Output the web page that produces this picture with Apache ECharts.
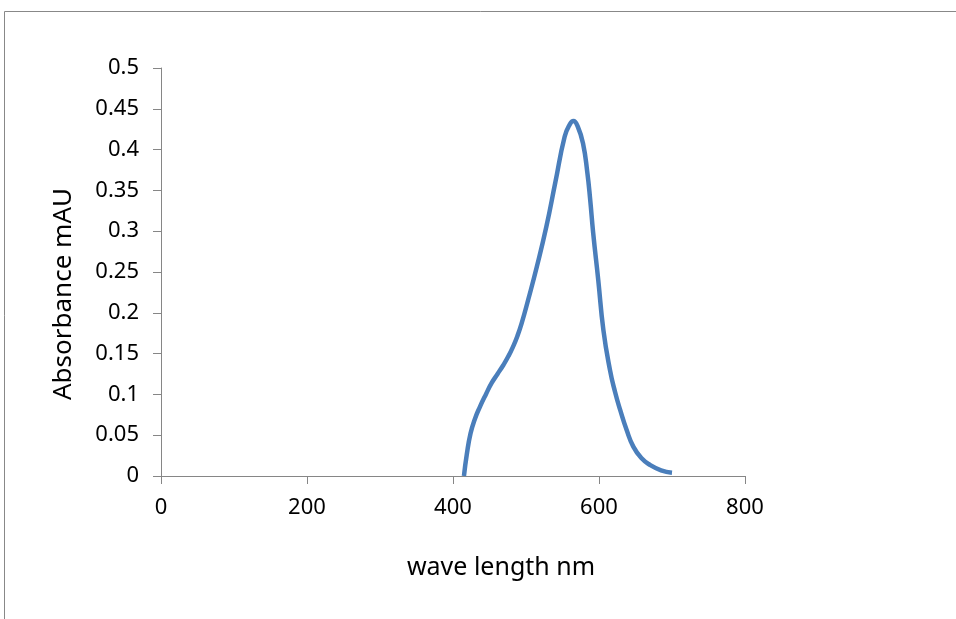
<!DOCTYPE html>
<html>
<head>
<meta charset="utf-8">
<script src="https://cdn.jsdelivr.net/npm/echarts@6/dist/echarts.min.js"></script>
<style>
html,body{margin:0;padding:0;background:#fff;}
#chart{width:956px;height:619px;}
</style>
</head>
<body>
<div id="chart"></div>
<script>
const wavelength = [415, 419, 424, 430, 437, 445, 453, 461, 469, 476, 482, 488, 494, 503, 515, 528, 540, 553, 560, 565, 571, 578, 584, 588, 592, 599, 606, 615, 622, 629, 638, 647, 658, 670, 685, 700];
const absorbance = [0, 0.027, 0.052, 0.070, 0.085, 0.100, 0.114, 0.125, 0.136, 0.147, 0.158, 0.171, 0.187, 0.216, 0.257, 0.306, 0.359, 0.416, 0.431, 0.435, 0.428, 0.408, 0.372, 0.338, 0.298, 0.240, 0.179, 0.130, 0.103, 0.081, 0.056, 0.036, 0.022, 0.0135, 0.007, 0.004];
const xTitle = 'wave length nm';
const yTitle = 'Absorbance mAU';

const chart = echarts.init(document.getElementById('chart'));
const font = '"Noto Sans", "Open Sans", sans-serif';
const axisColor = '#868686';
chart.setOption({
  animation: false,
  grid: {left: 161, right: 211, top: 68, bottom: 143},
  xAxis: {
    type: 'value', min: 0, max: 800, interval: 200,
    axisLine: {show: true, lineStyle: {color: axisColor, width: 1}},
    axisTick: {show: true, length: 8, lineStyle: {color: axisColor}},
    splitLine: {show: false},
    axisLabel: {color: '#000', fontSize: 22, fontFamily: font, margin: 21}
  },
  yAxis: {
    type: 'value', min: 0, max: 0.5, interval: 0.05,
    axisLine: {show: true, lineStyle: {color: axisColor, width: 1}},
    axisTick: {show: true, length: 8, lineStyle: {color: axisColor}},
    splitLine: {show: false},
    axisLabel: {color: '#000', fontSize: 22, fontFamily: font, margin: 22,
      formatter: v => String(parseFloat(v.toFixed(2)))}
  },
  series: [{
    type: 'line',
    data: wavelength.map((w, i) => [w, absorbance[i]]),
    smooth: 0.5,
    showSymbol: false,
    lineStyle: {color: '#4a7ebb', width: 4.5}
  }],
  graphic: [
    {type: 'rect', shape: {x: 4.5, y: 11.5, width: 1000, height: 700}, style: {fill: 'none', stroke: '#888', lineWidth: 1}, silent: true},
    {type: 'text', x: 501, y: 568, style: {text: xTitle, font: '25px ' + font, fill: '#000', textAlign: 'center', textVerticalAlign: 'middle'}},
    {type: 'text', x: 64, y: 294, rotation: Math.PI / 2, style: {text: yTitle, font: '26px ' + font, fill: '#000', textAlign: 'center', textVerticalAlign: 'middle'}}
  ]
});
</script>
</body>
</html>
